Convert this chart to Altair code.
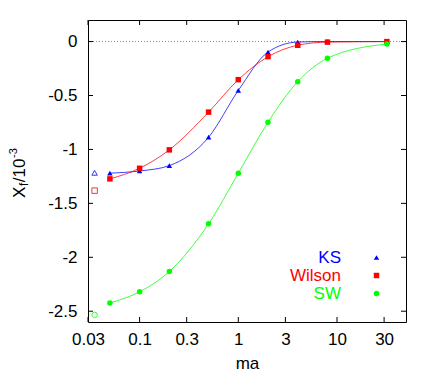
import altair as alt
import pandas as pd

# ---- data ----
ma = [0.05, 0.1, 0.2, 0.5, 1, 2, 4, 8, 32]
ks = [-1.22, -1.20, -1.15, -0.887, -0.453, -0.097, -0.004, 0.0, 0.0]
wilson = [-1.273, -1.175, -1.004, -0.654, -0.353, -0.14, -0.034, -0.005, 0.0]
sw = [-2.423, -2.32, -2.132, -1.689, -1.221, -0.747, -0.372, -0.155, -0.022]

series = ["KS", "Wilson", "SW"]
colors = ["#0000ff", "#ff0000", "#00ff00"]
shapes = ["triangle-up", "square", "circle"]

cont_ma = 0.035
cont_vals = [-1.217, -1.382, -2.534]

xticks = [0.03, 0.1, 0.3, 1, 3, 10, 30]
yticks = [0, -0.5, -1, -1.5, -2, -2.5]

rows = []
for s, vals in zip(series, [ks, wilson, sw]):
    for m, v in zip(ma, vals):
        rows.append({"series": s, "ma": m, "X": v})
df = pd.DataFrame(rows)

W, H = 318, 302
FONT = "Liberation Sans"
xscale = alt.Scale(type="log", domain=[0.03, 50])
yscale = alt.Scale(domain=[-2.6, 0.2])

xaxis = alt.Axis(values=xticks, labelExpr="'' + datum.value", ticks=False, domain=False,
                 grid=False, labelFont=FONT, labelFontSize=17, labelPadding=9,
                 labelColor="black", labelFlush=False, title="ma", titleFont=FONT,
                 titleFontSize=17, titleFontWeight="normal", titleColor="black",
                 titlePadding=8)
yaxis = alt.Axis(values=yticks, labelExpr="'' + datum.value", ticks=False, domain=False,
                 grid=False, labelFont=FONT, labelFontSize=17, labelPadding=11,
                 labelColor="black", title=None)

legend = alt.Legend(title=None, orient="none", legendX=197, legendY=229,
                    labelAlign="right", labelOffset=alt.ExprRef(expr="-44"), symbolOffset=83,
                    labelFontSize=17, labelFont=FONT,
                    labelColor=alt.ExprRef(expr="datum.value=='KS' ? '#0000ff' : (datum.value=='Wilson' ? '#ff0000' : '#00ff00')"),
                    rowPadding=0, padding=0, symbolSize=30, symbolStrokeWidth=0)


def X(field="ma"):
    return alt.X(f"{field}:Q", scale=xscale, axis=xaxis)


def Y(field="X"):
    return alt.Y(f"{field}:Q", scale=yscale, axis=yaxis)


layers = []

# zero dotted line
layers.append(alt.Chart(pd.DataFrame({"X": [0]})).mark_rule(
    strokeDash=[1, 2], color="#888888", strokeWidth=1).encode(y=Y()))

# curves
for s, c in zip(series, colors):
    layers.append(alt.Chart(df[df.series == s]).mark_line(
        color=c, strokeWidth=1, interpolate="monotone", opacity=0.75).encode(x=X(), y=Y()))

# filled points with legend
layers.append(alt.Chart(df).mark_point(filled=True, size=30, opacity=1).encode(
    x=X(), y=Y(),
    color=alt.Color("series:N", scale=alt.Scale(domain=series, range=colors), legend=legend),
    shape=alt.Shape("series:N", scale=alt.Scale(domain=series, range=shapes), legend=legend)))

# open (continuum) points
for s, c, shp, v in zip(series, colors, shapes, cont_vals):
    layers.append(alt.Chart(pd.DataFrame({"ma": [cont_ma], "X": [v]})).mark_point(
        filled=False, shape=shp, size=30, strokeWidth=1, color=c, opacity=0.8).encode(
        x=X(), y=Y()))

# inward ticks
xt = pd.DataFrame({"ma": xticks})
yt = pd.DataFrame({"X": yticks})
for y1, y2 in [(H, H - 5), (0, 5)]:
    layers.append(alt.Chart(xt).mark_rule(color="black", strokeWidth=1).encode(
        x=X(), y=alt.value(y1), y2=alt.value(y2)))
for x1, x2 in [(0, 5), (W, W - 5)]:
    layers.append(alt.Chart(yt).mark_rule(color="black", strokeWidth=1).encode(
        y=Y(), x=alt.value(x1), x2=alt.value(x2)))

# y-axis title: X_f/10^-3
title_parts = [
    ("X", 17, "left", -63, 178),
    ("f", 12, "left", -60, 166),
    ("/10", 17, "right", -63, 138.5),
    ("-3", 11, "left", -71, 138),
]
for t, fs, al, xx, yy in title_parts:
    layers.append(alt.Chart(pd.DataFrame({"t": [t]})).mark_text(
        angle=270, align=al, baseline="alphabetic", fontSize=fs, font=FONT, color="black").encode(
        text="t:N", x=alt.value(xx), y=alt.value(yy)))

chart = alt.layer(*layers).properties(
    width=W, height=H,
    padding={"left": 80, "top": 12, "right": 22, "bottom": 50},
    autosize=alt.AutoSizeParams(type="none"),
).configure_view(stroke="black", strokeWidth=1)

chart.save("out.html", embed_options={"renderer": "svg", "actions": False})
